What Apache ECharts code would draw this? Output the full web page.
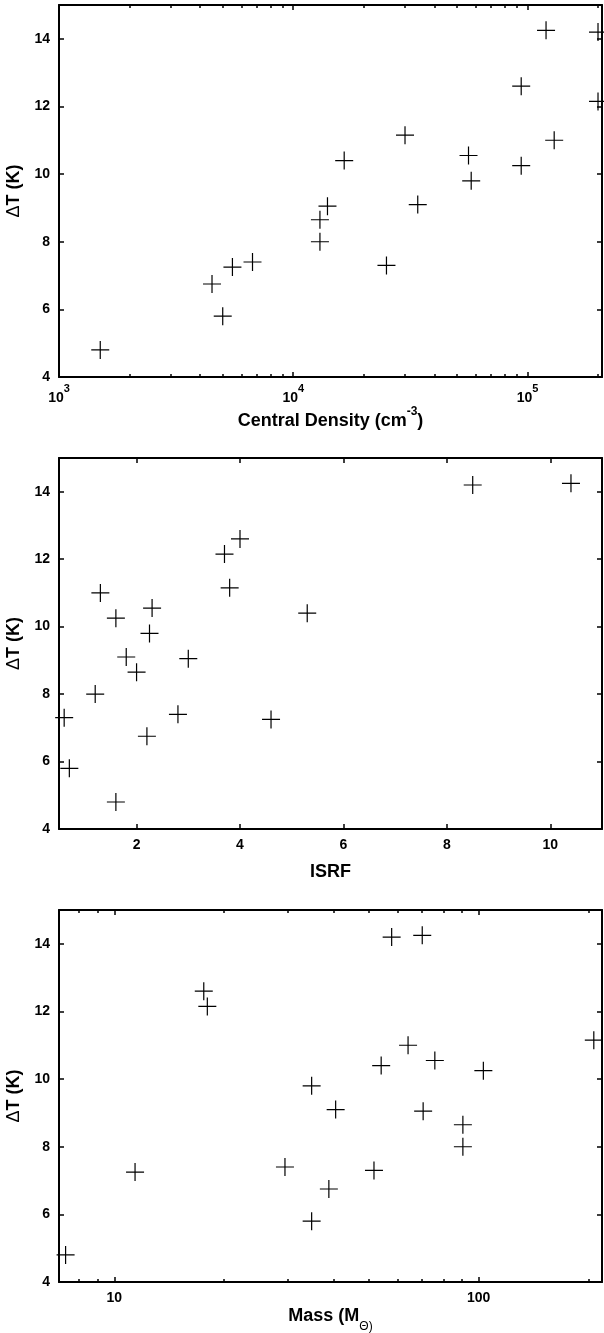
<!DOCTYPE html>
<html>
<head>
<meta charset="utf-8">
<script src="https://cdn.jsdelivr.net/npm/echarts@6/dist/echarts.min.js"></script>
<style>
html, body { margin: 0; padding: 0; background: #fff; }
#chart { width: 604px; height: 1333px; }
</style>
</head>
<body>
<div id="chart"></div>
<script>
// same 20 sources in every panel, ΔT shared
const deltaT      = [4.8, 5.8, 6.75, 7.25, 7.3, 7.4, 8.0, 8.65, 9.05, 9.1, 9.8, 10.25, 10.4, 10.55, 11.0, 11.15, 12.15, 12.6, 14.2, 14.25];
const densityVals = [1500, 5000, 4500, 5500, 25000, 6700, 13000, 13000, 14000, 34000, 57500, 94000, 16500, 56000, 130000, 30000, 200000, 94000, 200000, 120000];
const isrfVals    = [1.6, 0.7, 2.2, 4.6, 0.6, 2.8, 1.2, 2.0, 3.0, 1.8, 2.25, 1.6, 5.3, 2.3, 1.3, 3.8, 3.7, 4.0, 8.5, 10.4];
const massVals    = [7.35, 34.8, 38.8, 11.4, 51.6, 29.4, 90.5, 90.5, 70.4, 40.5, 34.8, 103, 54, 75.8, 64, 207, 18.0, 17.6, 57.7, 70];

// tick labels
const densityTicks = [1000, 10000, 100000];
const densityTickExp = ['3', '4', '5'];
const massTicks = [10, 100];
const massTickLabels = ['10', '100'];

const FONT = "'Liberation Sans', Arial, Helvetica, sans-serif";
const BLACK = '#000';

const chart = echarts.init(document.getElementById('chart'), null, { renderer: 'canvas' });

const plusSymbol = 'path://M0,84h180v12h-180z M84,0h12v180h-12z';

const sameTick = (v, list) => list.findIndex(t => Math.abs(v - t) / t < 1e-6);

function xAxisPair(gridIndex, base) {
  const common = {
    gridIndex: gridIndex,
    axisLine: { show: true, onZero: false, lineStyle: { color: BLACK, width: 2 } },
    axisTick: { show: true, inside: true, length: 5, lineStyle: { color: BLACK, width: 1.5 } },
    splitLine: { show: false },
    ...base
  };
  return [
    { ...common, position: 'bottom' },
    { ...common, position: 'top', name: '', axisLabel: { show: false } }
  ];
}

function yAxisPair(gridIndex) {
  const common = {
    gridIndex: gridIndex,
    type: 'value',
    min: 4,
    max: 15,
    interval: 2,
    axisLine: { show: true, onZero: false, lineStyle: { color: BLACK, width: 2 } },
    axisTick: { show: true, inside: true, length: 5, lineStyle: { color: BLACK, width: 1.5 } },
    splitLine: { show: false }
  };
  return [
    {
      ...common,
      position: 'left',
      name: '{d|Δ}{t|T (K)}',
      nameLocation: 'middle',
      nameRotate: 90,
      nameGap: 36,
      nameTextStyle: {
        rich: {
          d: { fontFamily: FONT, fontSize: 18, fontWeight: 'normal', color: BLACK },
          t: { fontFamily: FONT, fontSize: 18, fontWeight: 'bold', color: BLACK }
        }
      },
      axisLabel: {
        show: true, margin: 9, color: BLACK, fontFamily: FONT, fontSize: 14, fontWeight: 'bold',
        showMaxLabel: false
      }
    },
    { ...common, position: 'right', axisLabel: { show: false } }
  ];
}

const titleRich = {
  t: { fontFamily: FONT, fontSize: 18, fontWeight: 'bold', color: BLACK, lineHeight: 24, verticalAlign: 'bottom' },
  sup: { fontFamily: FONT, fontSize: 12, fontWeight: 'bold', color: BLACK, lineHeight: 12, verticalAlign: 'top' },
  tt: { fontFamily: FONT, fontSize: 18, fontWeight: 'bold', color: BLACK, lineHeight: 22, verticalAlign: 'top' },
  sub: { fontFamily: FONT, fontSize: 12, fontWeight: 'normal', color: BLACK, lineHeight: 12, padding: [14, 0, 0, 0], verticalAlign: 'top' }
};

const xAxes = [
  ...xAxisPair(0, {
    type: 'log', logBase: 10, min: 1000, max: 208000,
    minorTick: { show: true, splitNumber: 9, length: 3, lineStyle: { color: BLACK, width: 1.5 } },
    name: '{t|Central Density (cm}{sup|-3}{t|)}',
    nameLocation: 'middle', nameGap: 28,
    nameTextStyle: { rich: titleRich },
    axisLabel: {
      show: true, margin: 6,
      formatter: (v) => {
        const i = sameTick(v, densityTicks);
        return i < 0 ? '' : '{b|10}{s|' + densityTickExp[i] + '}';
      },
      rich: {
        b: { fontFamily: FONT, fontSize: 14, fontWeight: 'bold', color: BLACK, lineHeight: 22, verticalAlign: 'bottom' },
        s: { fontFamily: FONT, fontSize: 11, fontWeight: 'bold', color: BLACK, lineHeight: 11, verticalAlign: 'top' }
      }
    }
  }),
  ...xAxisPair(1, {
    type: 'value', min: 0.5, max: 11, splitNumber: 5,
    name: 'ISRF',
    nameLocation: 'middle', nameGap: 31,
    nameTextStyle: { fontFamily: FONT, fontSize: 18, fontWeight: 'bold', color: BLACK, lineHeight: 24 },
    axisLabel: {
      show: true, margin: 9, color: BLACK, fontFamily: FONT, fontSize: 14, fontWeight: 'bold',
      showMinLabel: false, showMaxLabel: false
    }
  }),
  ...xAxisPair(2, {
    type: 'log', logBase: 10, min: 7.05, max: 218,
    minorTick: { show: true, splitNumber: 9, length: 3, lineStyle: { color: BLACK, width: 1.5 } },
    name: '{tt|Mass (M}{sub|Θ)}',
    nameLocation: 'middle', nameGap: 25,
    nameTextStyle: { rich: titleRich },
    axisLabel: {
      show: true, margin: 9, color: BLACK, fontFamily: FONT, fontSize: 14, fontWeight: 'bold',
      formatter: (v) => {
        const i = sameTick(v, massTicks);
        return i < 0 ? '' : massTickLabels[i];
      }
    }
  })
];

const yAxes = [...yAxisPair(0), ...yAxisPair(1), ...yAxisPair(2)];

const xSeries = [densityVals, isrfVals, massVals];

chart.setOption({
  animation: false,
  backgroundColor: '#fff',
  grid: [
    { left: 59, right: 2, top: 5, height: 372, outerBoundsMode: 'none' },
    { left: 59, right: 2, top: 458, height: 371, outerBoundsMode: 'none' },
    { left: 59, right: 2, top: 910, height: 372, outerBoundsMode: 'none' }
  ],
  xAxis: xAxes,
  yAxis: yAxes,
  series: xSeries.map((xs, i) => ({
    type: 'scatter',
    xAxisIndex: 2 * i,
    yAxisIndex: 2 * i,
    symbol: plusSymbol,
    symbolSize: 18,
    itemStyle: { color: BLACK, opacity: 1 },
    emphasis: { disabled: true },
    data: xs.map((x, k) => [x, deltaT[k]])
  }))
});
</script>
</body>
</html>
